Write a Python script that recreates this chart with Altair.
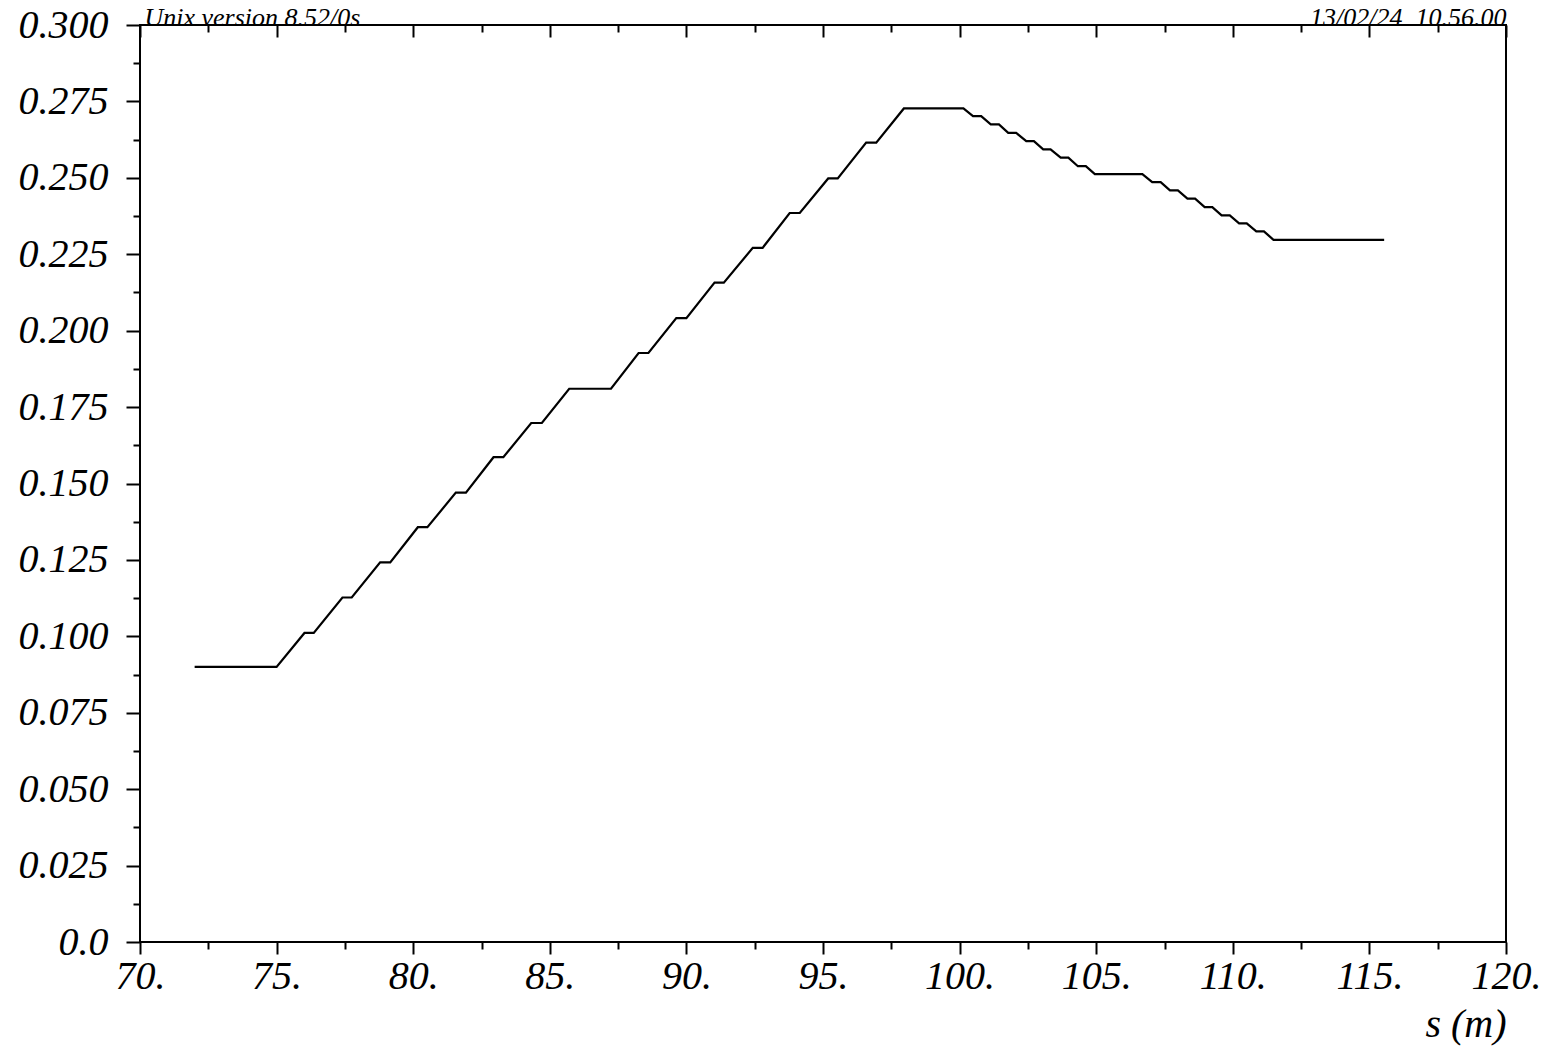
import altair as alt
import pandas as pd

# Data (s in metres, value)
s_vals = [72.0, 75.0, 76.02, 76.36, 77.41, 77.75, 78.79, 79.16, 80.17, 80.52,
          81.56, 81.93, 82.94, 83.30, 84.32, 84.71, 85.71, 87.24, 88.25, 88.61,
          89.63, 90.00, 91.03, 91.37, 92.43, 92.79, 93.78, 94.15, 95.19, 95.54,
          96.58, 96.95, 97.96, 100.14, 100.49, 100.79, 101.14, 101.44, 101.78, 102.07,
          102.44, 102.72, 103.06, 103.33, 103.70, 103.98, 104.33, 104.62, 104.95, 106.69,
          107.05, 107.36, 107.70, 107.99, 108.34, 108.62, 108.97, 109.25, 109.59, 109.89,
          110.23, 110.51, 110.86, 111.14, 111.49, 115.54]
y_vals = [0.0900, 0.0900, 0.1011, 0.1011, 0.1127, 0.1127, 0.1242, 0.1242, 0.1357, 0.1357,
          0.1470, 0.1470, 0.1586, 0.1586, 0.1698, 0.1698, 0.1810, 0.1810, 0.1927, 0.1927,
          0.2041, 0.2041, 0.2157, 0.2157, 0.2271, 0.2271, 0.2385, 0.2385, 0.2498, 0.2498,
          0.2615, 0.2615, 0.2727, 0.2727, 0.2702, 0.2702, 0.2675, 0.2675, 0.2647, 0.2647,
          0.2620, 0.2620, 0.2593, 0.2593, 0.2566, 0.2566, 0.2538, 0.2538, 0.2512, 0.2512,
          0.2486, 0.2486, 0.2459, 0.2459, 0.2432, 0.2432, 0.2404, 0.2404, 0.2377, 0.2377,
          0.2351, 0.2351, 0.2325, 0.2325, 0.2297, 0.2297]

x_major = [70, 75, 80, 85, 90, 95, 100, 105, 110, 115, 120]
x_minor = [72.5, 77.5, 82.5, 87.5, 92.5, 97.5, 102.5, 107.5, 112.5, 117.5]
y_major = [round(i * 0.025, 3) for i in range(13)]
y_minor = [round(0.0125 + i * 0.025, 4) for i in range(12)]

header_left = "Unix version 8.52/0s"
header_right = "13/02/24\u00a0\u00a010.56.00"
x_title = "s (m)"

df = pd.DataFrame({"s": s_vals, "v": y_vals})

FONT = "Liberation Serif"
W, H = 1366, 917

xs = alt.Scale(domain=[70, 120], nice=False, zero=False)
ys = alt.Scale(domain=[0, 0.3], nice=False, zero=False)

common = dict(grid=False, domain=False, tickColor="black", tickWidth=2,
              labelFont=FONT, labelFontStyle="italic", labelFontSize=40,
              labelColor="black", labelOverlap=False, labelFlush=False,
              titleFont=FONT, titleFontStyle="italic", titleFontSize=40,
              titleFontWeight="normal", titleColor="black")

main = alt.Chart(df).mark_line(color="black", strokeWidth=2.2).encode(
    x=alt.X("s:Q", scale=xs, axis=alt.Axis(
        orient="bottom", values=x_major, tickSize=12, labelPadding=2,
        labelExpr="datum.value + '.'", title=x_title,
        titleAlign="right", titleAnchor="end", titleX=W, titleY=94,
        titleBaseline="alphabetic", **common)),
    y=alt.Y("v:Q", scale=ys, axis=alt.Axis(
        orient="left", values=y_major, tickSize=14, labelPadding=18,
        labelExpr="datum.value == 0 ? '0.0' : format(datum.value, '.3f')",
        title=None, **common)),
)

minor = alt.Chart(df).mark_line(strokeOpacity=0).encode(
    x=alt.X("s:Q", scale=xs, axis=alt.Axis(
        orient="bottom", values=x_minor, tickSize=7, labels=False,
        title=None, **common)),
    y=alt.Y("v:Q", scale=ys, axis=alt.Axis(
        orient="left", values=y_minor, tickSize=7, labels=False,
        title=None, **common)),
)

hdr = dict(common)
hdr["titleFontSize"] = 26

top_major = alt.Chart(df).mark_line(strokeOpacity=0).encode(
    x=alt.X("s:Q", scale=xs, axis=alt.Axis(
        orient="top", values=x_major, tickSize=12, offset=-12, labels=False,
        title=header_left, titleAlign="left", titleAnchor="start",
        titleX=4, titleY=-12, titleBaseline="alphabetic", **hdr)),
    y=alt.Y("v:Q", scale=ys, axis=None),
)

top_minor = alt.Chart(df).mark_line(strokeOpacity=0).encode(
    x=alt.X("s:Q", scale=xs, axis=alt.Axis(
        orient="top", values=x_minor, tickSize=7, offset=-7, labels=False,
        title=header_right, titleAlign="right", titleAnchor="end",
        titleX=W, titleY=-7, titleBaseline="alphabetic", **hdr)),
    y=alt.Y("v:Q", scale=ys, axis=None),
)

chart = alt.layer(main, minor, top_major, top_minor).resolve_axis(
    x="independent", y="independent"
).properties(
    width=W, height=H,
    autosize=alt.AutoSizeParams(type="none"),
    padding={"left": 132, "top": 17, "right": 40, "bottom": 104},
    background="white",
).configure_view(stroke="black", strokeWidth=2)

chart.save("out.html", embed_options={"renderer": "svg", "actions": False})
